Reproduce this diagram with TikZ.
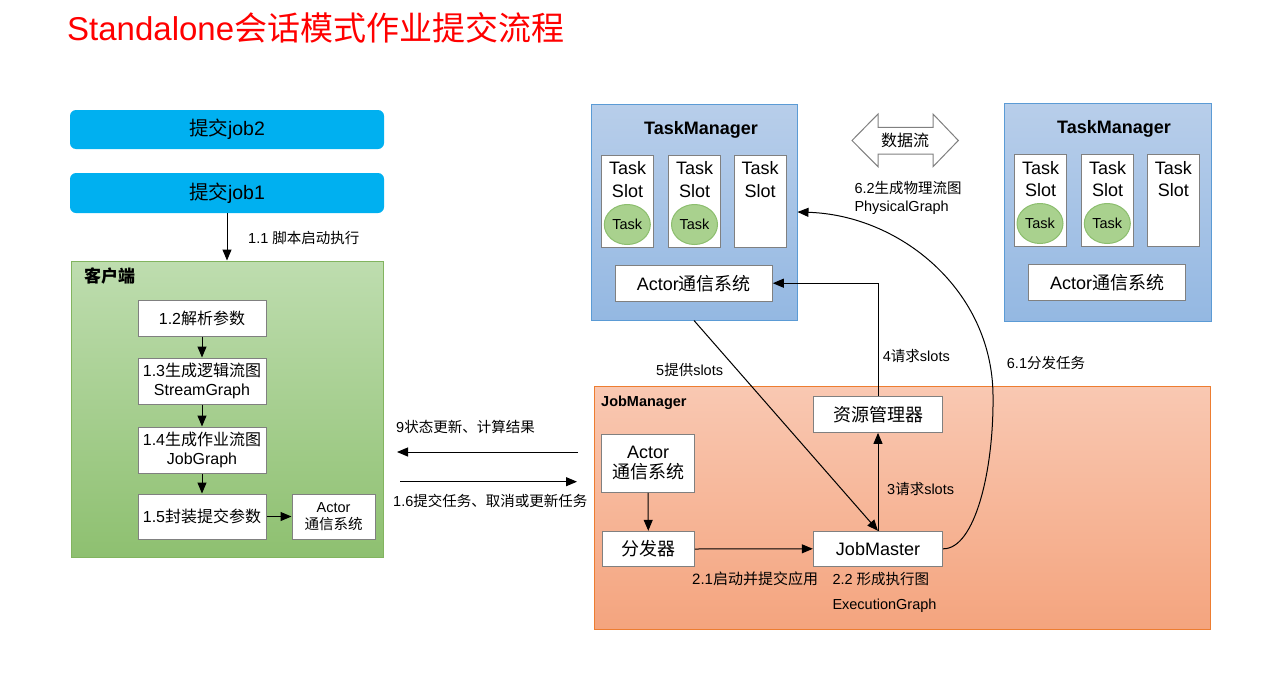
\documentclass[tikz,border=0pt]{standalone}
\usepackage{fontspec}
\setmainfont{Liberation Sans}
\newfontfamily\cjk{Noto Sans CJK SC}
\usetikzlibrary{arrows.meta,shapes.geometric}
\newcommand\C[1]{{\cjk #1}}
\newcommand\fsz[2]{\fontsize{#1}{#2}\selectfont}
\definecolor{jobblue}{RGB}{0,176,240}
\definecolor{cltop}{RGB}{190,221,175}
\definecolor{clbot}{RGB}{142,192,112}
\definecolor{clborder}{RGB}{130,180,95}
\definecolor{tmtop}{RGB}{184,206,234}
\definecolor{tmbot}{RGB}{148,184,226}
\definecolor{tmborder}{RGB}{91,155,213}
\definecolor{jmtop}{RGB}{249,200,178}
\definecolor{jmbot}{RGB}{244,164,126}
\definecolor{jmborder}{RGB}{237,125,49}
\definecolor{taskfill}{RGB}{169,209,142}
\definecolor{taskborder}{RGB}{140,190,110}
\definecolor{boxgray}{RGB}{128,128,128}
\tikzset{
  wbox/.style={draw=boxgray, fill=white, line width=1pt, inner sep=0pt, align=center},
  jobbox/.style={fill=jobblue, rounded corners=6pt, inner sep=0pt, font=\fsz{19.5}{23}},
  arr/.style={-{Triangle[length=11pt,width=9pt]}, line width=1pt},
  lbl/.style={inner sep=0pt, anchor=west, align=left, font=\fsz{14.5}{17.4}},
  slotbox/.style={wbox, minimum width=52pt, minimum height=92pt},
  slottext/.style={inner sep=0pt, align=center, font=\fsz{18}{22.7}},
  task/.style={ellipse, draw=taskborder, fill=taskfill, line width=1pt, minimum width=46pt, minimum height=40pt, inner sep=0pt, font=\fsz{14.5}{17}},
  ttl/.style={inner sep=0pt, font=\fsz{18}{21}\bfseries},
}
\begin{document}
\begin{tikzpicture}[x=1pt,y=-1pt]
\useasboundingbox (0,0) rectangle (1269,680);
\fill[white] (0,0) rectangle (1269,680);
% title
\node[anchor=west, inner sep=0pt, text=red, font=\fsz{33}{39}] (title) at (67,28) {Standalone\C{会话模式作业提交流程}};
% jobs
\node[jobbox, minimum width=314pt, minimum height=39pt] (job2) at (227,129.5) {\C{提交}job2};
\node[jobbox, minimum width=314pt, minimum height=40pt] (job1) at (227,193) {\C{提交}job1};
% client
\node[draw=clborder, top color=cltop, bottom color=clbot, line width=1pt, minimum width=312pt, minimum height=296pt, inner sep=0pt] (client) at (227,409) {};
\node[anchor=west, inner sep=0pt, font=\fsz{17}{20}\bfseries] (cltitle) at (84,276) {\C{客户端}};
\node[wbox, minimum width=128pt, minimum height=36pt, font=\fsz{16}{18.5}] (b12) at (202,318) {1.2\C{解析参数}};
\node[wbox, minimum width=128pt, minimum height=46pt, font=\fsz{16}{18.5}] (b13) at (202,381) {1.3\C{生成逻辑流图}\\StreamGraph};
\node[wbox, minimum width=128pt, minimum height=46pt, font=\fsz{16}{18.5}] (b14) at (202,450) {1.4\C{生成作业流图}\\JobGraph};
\node[wbox, minimum width=128pt, minimum height=45pt, font=\fsz{16}{18.5}] (b15) at (202,516.5) {1.5\C{封装提交参数}};
\node[wbox, minimum width=83pt, minimum height=45pt, font=\fsz{14.5}{17}] (cactor) at (333.5,516.5) {Actor\\\C{通信系统}};
\draw[arr] (job1.south) -- (client.north);
\node[lbl] (l11) at (248,238) {1.1 \C{脚本启动执行}};
\draw[arr] (b12.south) -- (b13.north);
\draw[arr] (b13.south) -- (b14.north);
\draw[arr] (b14.south) -- (b15.north);
\draw[arr] (b15.east) -- (cactor.west);
% middle arrows
\coordinate (a9s) at (578,452);
\coordinate (a9e) at (397,452);
\coordinate (a16s) at (400,481.7);
\coordinate (a16e) at (577,481.7);
\draw[arr] (a9s) -- (a9e);
\draw[arr] (a16s) -- (a16e);
\node[lbl] (l9) at (396,427.3) {9\C{状态更新、计算结果}};
\node[lbl] (l16) at (393,501) {1.6\C{提交任务、取消或更新任务}};
% TaskManager left
\node[draw=tmborder, top color=tmtop, bottom color=tmbot, line width=1pt, minimum width=206pt, minimum height=216pt, inner sep=0pt] (tml) at (694,212) {};
\node[ttl] (tmltitle) at (701,130) {TaskManager};
\node[slotbox] (s1) at (627.5,201.3) {};
\node[slotbox] (s2) at (694.7,201.3) {};
\node[slotbox] (s3) at (760.2,201.3) {};
\node[slottext] (s1t) at (627.5,179.4) {Task\\Slot};
\node[slottext] (s2t) at (694.7,179.4) {Task\\Slot};
\node[slottext] (s3t) at (760.2,179.4) {Task\\Slot};
\node[task] (t1) at (627.3,224.5) {Task};
\node[task] (t2) at (694.5,224.5) {Task};
\node[wbox, minimum width=157pt, minimum height=36pt, font=\fsz{18}{21}] (tmlactor) at (693.8,283.2) {Actor\C{通信系统}};
% TaskManager right
\node[draw=tmborder, top color=tmtop, bottom color=tmbot, line width=1pt, minimum width=207pt, minimum height=218pt, inner sep=0pt] (tmr) at (1107.5,212) {};
\node[ttl] (tmrtitle) at (1114,128.5) {TaskManager};
\node[slotbox] (r1) at (1040.5,200.8) {};
\node[slotbox] (r2) at (1107.5,200.8) {};
\node[slotbox] (r3) at (1173.3,200.8) {};
\node[slottext] (r1t) at (1040.5,179) {Task\\Slot};
\node[slottext] (r2t) at (1107.5,179) {Task\\Slot};
\node[slottext] (r3t) at (1173.3,179) {Task\\Slot};
\node[task] (rt1) at (1040,223.5) {Task};
\node[task] (rt2) at (1107.3,223.5) {Task};
\node[wbox, minimum width=157pt, minimum height=36pt, font=\fsz{18}{21}] (tmractor) at (1107,282.2) {Actor\C{通信系统}};
% data flow double arrow
\draw[draw=boxgray, fill=white, line width=1pt] (852,140.5) -- (878,114) -- (878,127.3) -- (933,127.3) -- (933,114) -- (958.3,140.5) -- (933,166.7) -- (933,154) -- (878,154) -- (878,166.7) -- cycle;
\node[inner sep=0pt, font=\fsz{16}{19}] (dflow) at (905,140.5) {\C{数据流}};
\node[lbl] (l62) at (854.3,198) {6.2\C{生成物理流图}\\PhysicalGraph};
% JobManager
\node[draw=jmborder, top color=jmtop, bottom color=jmbot, line width=1pt, minimum width=615.7pt, minimum height=243pt, inner sep=0pt] (jm) at (902.8,508.3) {};
\node[anchor=west, inner sep=0pt, font=\fsz{14.5}{17}\bfseries] (jmtitle) at (601,403) {JobManager};
\node[wbox, minimum width=92.6pt, minimum height=58pt, font=\fsz{18}{20}] (jmactor) at (648,463.3) {Actor\\\C{通信系统}};
\node[wbox, minimum width=92pt, minimum height=35.4pt, font=\fsz{18}{21}] (disp) at (648.3,549) {\C{分发器}};
\node[wbox, minimum width=129.4pt, minimum height=35pt, font=\fsz{18}{21}] (jmaster) at (878,548.8) {JobMaster};
\node[wbox, minimum width=129.4pt, minimum height=36.3pt, font=\fsz{18}{21}] (res) at (878,414.2) {\C{资源管理器}};
\draw[arr] (jmactor.south) -- (disp.north);
\draw[arr] (disp.east) -- (jmaster.west);
\draw[arr] (jmaster.north) -- (res.south);
\draw[arr] (res.north) |- (tmlactor.east);
\draw[arr] (tml.south) -- (jmaster.north);
\draw[arr] (jmaster.east) .. controls (975,549) and (994,470) .. (993,395) .. controls (992,290) and (900,215) .. (tml.east);
\node[lbl] (l5) at (656,370) {5\C{提供}slots};
\node[lbl] (l4) at (882.7,356) {4\C{请求}slots};
\node[lbl] (l3) at (887,489.3) {3\C{请求}slots};
\node[lbl] (l61) at (1006.7,363.3) {6.1\C{分发任务}};
\node[lbl, font=\fsz{15}{18}] (l21) at (692,578.3) {2.1\C{启动并提交应用}};
\node[lbl] (l22) at (832.3,579.3) {2.2 \C{形成执行图}};
\node[lbl] (l22b) at (832.3,606) {ExecutionGraph};
\end{tikzpicture}
\end{document}
